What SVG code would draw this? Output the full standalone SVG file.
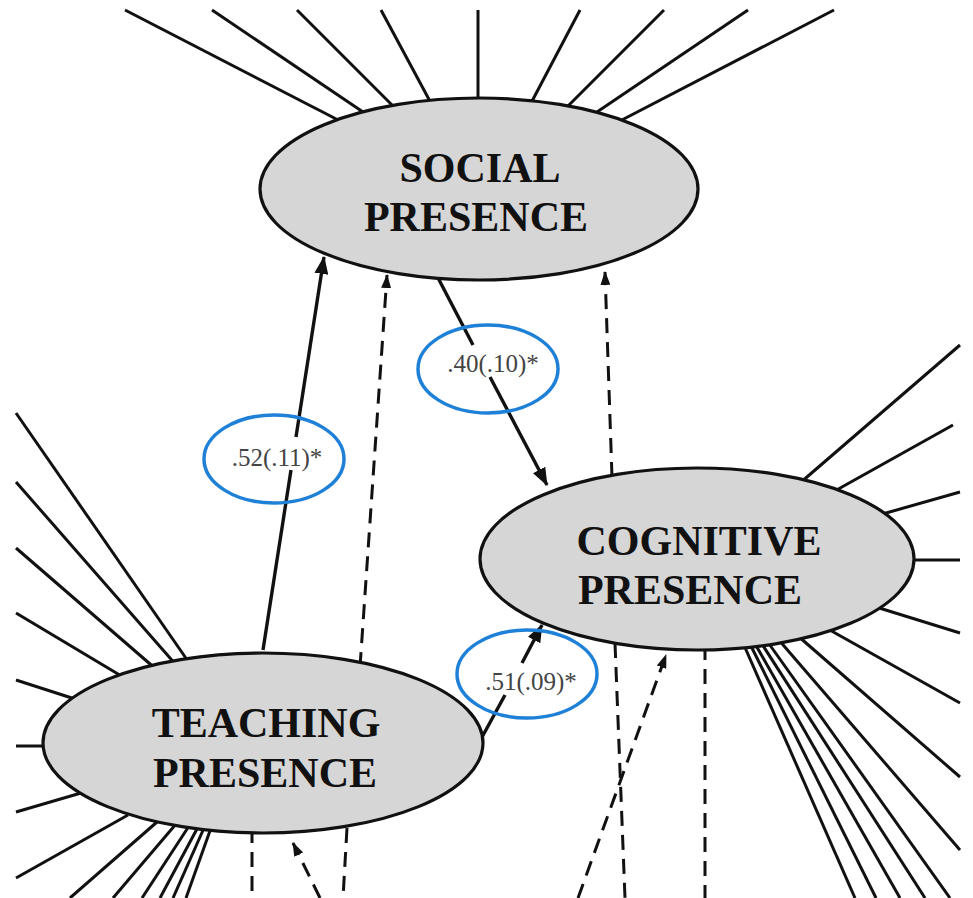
<svg xmlns="http://www.w3.org/2000/svg" width="973" height="898" viewBox="0 0 973 898">
<style>
.ind{stroke:#111;stroke-width:3;fill:none;stroke-linecap:butt}
.path{stroke:#111;stroke-width:3.4;fill:none}
.dash{stroke:#111;stroke-width:3;fill:none;stroke-dasharray:15 9}
.node{fill:#d6d6d6;stroke:#111;stroke-width:3.2}
.title{font-family:"Liberation Serif","Times New Roman",serif;font-weight:bold;font-size:42px;fill:#111;text-anchor:middle}
.lab{font-family:"Liberation Serif","Times New Roman",serif;font-size:25px;fill:#444;text-anchor:middle}
.ring{fill:none;stroke:#1f80d8;stroke-width:3.5}
</style>
<defs>
<marker id="ah" markerUnits="userSpaceOnUse" markerWidth="18" markerHeight="14" refX="17" refY="7" orient="auto">
<path d="M0,0 L18,7 L0,14 z" fill="#111"/>
</marker>
<marker id="ahs" markerUnits="userSpaceOnUse" markerWidth="14" markerHeight="10" refX="13" refY="5" orient="auto">
<path d="M0,0 L14,5 L0,10 z" fill="#111"/>
</marker>
</defs>
<rect width="973" height="898" fill="#fff"/>
<g id="connectors">
<!-- Social indicators -->
<line class="ind" x1="125" y1="10" x2="342" y2="122"/>
<line class="ind" x1="212" y1="10" x2="366" y2="114"/>
<line class="ind" x1="297" y1="10" x2="397" y2="110"/>
<line class="ind" x1="381" y1="10" x2="432" y2="105"/>
<line class="ind" x1="478" y1="10" x2="478" y2="104"/>
<line class="ind" x1="580" y1="10" x2="530" y2="105"/>
<line class="ind" x1="664" y1="10" x2="564" y2="110"/>
<line class="ind" x1="748" y1="10" x2="594" y2="114"/>
<line class="ind" x1="834" y1="10" x2="618" y2="122"/>
<!-- Teaching indicators -->
<line class="ind" x1="16" y1="413" x2="190" y2="664"/>
<line class="ind" x1="16" y1="482" x2="177" y2="666"/>
<line class="ind" x1="16" y1="548" x2="157" y2="670"/>
<line class="ind" x1="16" y1="613" x2="123" y2="677"/>
<line class="ind" x1="16" y1="680" x2="78" y2="700"/>
<line class="ind" x1="16" y1="746" x2="50" y2="746"/>
<line class="ind" x1="16" y1="812" x2="81" y2="793"/>
<line class="ind" x1="16" y1="878" x2="128" y2="815"/>
<line class="ind" x1="70" y1="898" x2="157" y2="822"/>
<line class="ind" x1="113" y1="898" x2="176" y2="824"/>
<line class="ind" x1="142" y1="898" x2="189" y2="826"/>
<line class="ind" x1="160" y1="898" x2="198" y2="827"/>
<line class="ind" x1="173" y1="898" x2="204" y2="828"/>
<line class="ind" x1="186" y1="898" x2="211" y2="828"/>
<!-- Cognitive indicators -->
<line class="ind" x1="960" y1="345" x2="800" y2="483"/>
<line class="ind" x1="953" y1="425" x2="833" y2="492"/>
<line class="ind" x1="960" y1="492" x2="879" y2="515"/>
<line class="ind" x1="960" y1="560" x2="908" y2="560"/>
<line class="ind" x1="960" y1="633" x2="876" y2="607"/>
<line class="ind" x1="960" y1="703" x2="828" y2="629"/>
<line class="ind" x1="960" y1="777" x2="798" y2="636"/>
<line class="ind" x1="960" y1="850" x2="778" y2="639"/>
<line class="ind" x1="855" y1="898" x2="743" y2="643"/>
<line class="ind" x1="876" y1="898" x2="749" y2="642"/>
<line class="ind" x1="900" y1="898" x2="754" y2="642"/>
<line class="ind" x1="925" y1="898" x2="760" y2="641"/>
<line class="ind" x1="950" y1="898" x2="767" y2="641"/>
<!-- structural paths -->
<line class="path" x1="263" y1="650" x2="291" y2="470"/>
<line class="path" x1="296" y1="437" x2="324" y2="257" marker-end="url(#ah)"/>
<line class="path" x1="436" y1="274" x2="473" y2="345"/>
<line class="path" x1="490" y1="377" x2="547" y2="485" marker-end="url(#ah)"/>
<line class="path" x1="475" y1="750" x2="505" y2="695"/>
<line class="path" x1="522" y1="663" x2="542" y2="625" marker-end="url(#ah)"/>
<!-- dashed paths -->
<line class="dash" x1="360" y1="667" x2="387" y2="275" marker-end="url(#ahs)"/>
<line class="dash" x1="612" y1="477" x2="605" y2="272" marker-end="url(#ahs)"/>
<line class="dash" x1="578" y1="898" x2="666" y2="655" marker-end="url(#ahs)"/>
<line class="dash" x1="615" y1="643" x2="625" y2="898"/>
<line class="dash" x1="705" y1="645" x2="705" y2="898"/>
<line class="dash" x1="252" y1="828" x2="252" y2="898"/>
<line class="dash" x1="347" y1="828" x2="343" y2="898"/>
<line class="dash" x1="320" y1="898" x2="293" y2="843" marker-end="url(#ahs)"/>
</g>
<g id="social">
<ellipse class="node" cx="479" cy="189" rx="219" ry="91"/>
<text class="title" x="480" y="182">SOCIAL</text>
<text class="title" x="476" y="231">PRESENCE</text>
</g>
<g id="cognitive">
<ellipse class="node" cx="697" cy="559" rx="217" ry="91"/>
<text class="title" x="699" y="555">COGNITIVE</text>
<text class="title" x="690" y="604">PRESENCE</text>
</g>
<g id="teaching">
<ellipse class="node" cx="263" cy="743" rx="220" ry="90"/>
<text class="title" x="266" y="737">TEACHING</text>
<text class="title" x="265" y="787">PRESENCE</text>
</g>
<g id="labels">
<text class="lab" x="277" y="466">.52(.11)*</text>
<ellipse class="ring" cx="274" cy="459" rx="70" ry="44"/>
<text class="lab" x="493" y="372">.40(.10)*</text>
<ellipse class="ring" cx="488" cy="369" rx="70" ry="44"/>
<text class="lab" x="531" y="690">.51(.09)*</text>
<ellipse class="ring" cx="527" cy="674" rx="70" ry="44"/>
</g>
</svg>
